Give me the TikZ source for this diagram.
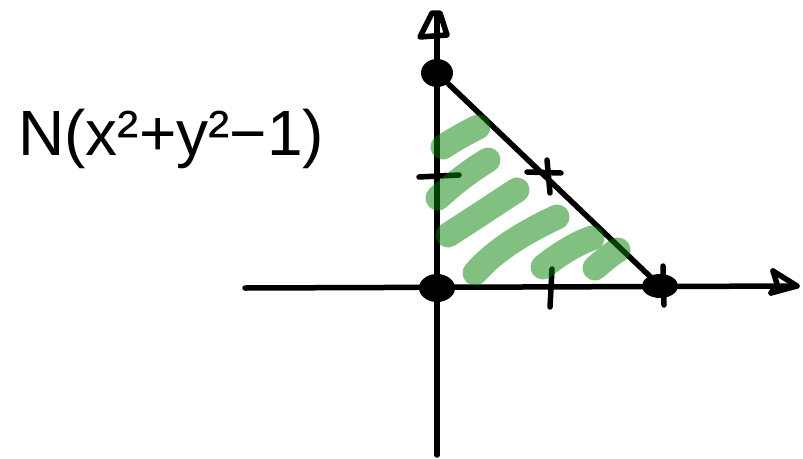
\documentclass[tikz,border=0pt]{standalone}
\usepackage{fontspec}
\setmainfont{Liberation Sans}
\begin{document}
\begin{tikzpicture}[x=1pt,y=-1pt,
  ink/.style={line width=5.5pt,line cap=round,line join=round,black},
  hatch/.style={line width=25pt,line cap=round,draw={rgb,255:red,4;green,129;blue,4},draw opacity=0.5}]
\useasboundingbox (0,0) rectangle (803,458);
% key points
\coordinate (O) at (437,288);
\coordinate (Ytop) at (437,73);
\coordinate (Xr) at (660,286);
\coordinate (xl) at (245,288);
\coordinate (xr) at (797,286);
\coordinate (yb) at (437,455);
\coordinate (yt) at (437,14);
% axes
\draw[ink] (xl) -- (xr);
\draw[ink] (yb) -- (yt);
\draw[ink] (420,37) -- (432,13) -- (440,13) -- (447,35) -- cycle;
\draw[ink] (773,271) -- (797,286) -- (771,293);
\draw[ink] (773,271) -- (777,284) -- (771,293);
% hypotenuse
\draw[ink] (Ytop) -- (Xr);
% dots
\fill[black] (Ytop) ellipse [x radius=16, y radius=14];
\fill[black] (O) ellipse [x radius=18, y radius=14];
\fill[black] (Xr) ellipse [x radius=18, y radius=12];
% ticks
\draw[ink] (419,177) -- (459,175);
\draw[ink] (527,172) -- (561,173);
\draw[ink] (547,160) -- (550,193);
\draw[ink] (552,269) -- (550,307);
\draw[ink] (663,266) -- (664,305);
% green hatching
\draw[hatch] (443,147) .. controls (455,139) and (466,133) .. (478,127);
\draw[hatch] (438,198) .. controls (453,184) and (470,171) .. (488,160);
\draw[hatch] (448,235) .. controls (470,221) and (494,205) .. (517,190);
\draw[hatch] (475,273) .. controls (495,250) and (525,232) .. (557,217);
\draw[hatch] (543,267) .. controls (558,255) and (575,244) .. (592,238);
\draw[hatch] (595,268) .. controls (603,261) and (610,255) .. (618,250);
% label
\node[anchor=base west,inner sep=0pt,font=\fontsize{64}{70}\selectfont] (label) at (18,155) {N(x²+y²−1)};
\end{tikzpicture}
\end{document}
